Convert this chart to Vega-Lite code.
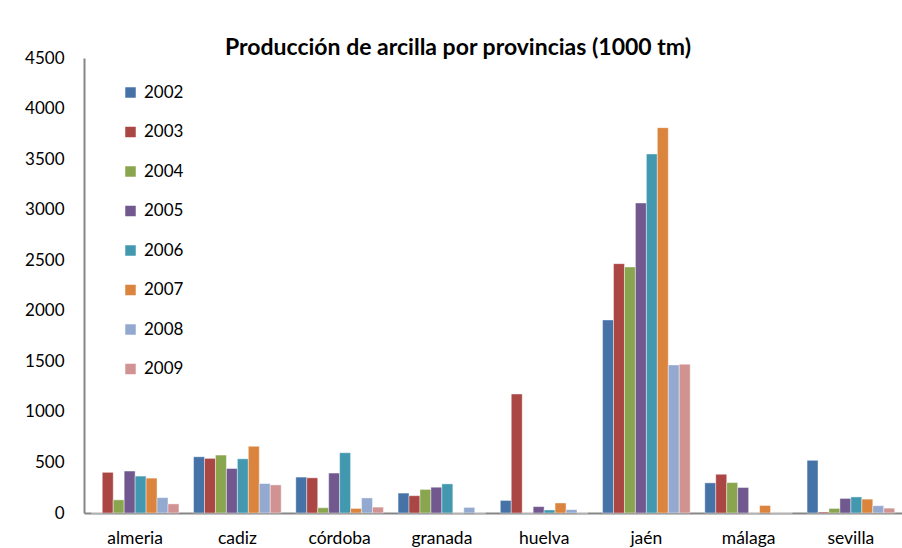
{
  "$schema": "https://vega.github.io/schema/vega-lite/v6.json",
  "autosize": "none",
  "padding": {"left": 84, "top": 58, "right": 0, "bottom": 35},
  "width": 818,
  "height": 455,
  "background": "white",
  "title": {
    "text": "Producción de arcilla por provincias (1000 tm)",
    "frame": "group",
    "anchor": "middle",
    "dx": -35,
    "dy": 33,
    "offset": 4,
    "baseline": "alphabetic",
    "fontSize": 23,
    "fontWeight": "bold",
    "color": "#000000"
  },
  "config": {
    "font": "Lato",
    "view": {"stroke": null},
    "axis": {"grid": false, "domainColor": "#868686", "domainWidth": 2, "labelColor": "#000000", "labelFontSize": 17, "ticks": false}
  },
  "data": {
    "values": [
      {"provincia": "almeria", "year": "2002", "value": 0},
      {"provincia": "almeria", "year": "2003", "value": 402},
      {"provincia": "almeria", "year": "2004", "value": 130},
      {"provincia": "almeria", "year": "2005", "value": 415},
      {"provincia": "almeria", "year": "2006", "value": 365},
      {"provincia": "almeria", "year": "2007", "value": 345},
      {"provincia": "almeria", "year": "2008", "value": 152},
      {"provincia": "almeria", "year": "2009", "value": 90},
      {"provincia": "cadiz", "year": "2002", "value": 556},
      {"provincia": "cadiz", "year": "2003", "value": 540},
      {"provincia": "cadiz", "year": "2004", "value": 573},
      {"provincia": "cadiz", "year": "2005", "value": 440},
      {"provincia": "cadiz", "year": "2006", "value": 536},
      {"provincia": "cadiz", "year": "2007", "value": 660},
      {"provincia": "cadiz", "year": "2008", "value": 291},
      {"provincia": "cadiz", "year": "2009", "value": 278},
      {"provincia": "córdoba", "year": "2002", "value": 355},
      {"provincia": "córdoba", "year": "2003", "value": 348},
      {"provincia": "córdoba", "year": "2004", "value": 52},
      {"provincia": "córdoba", "year": "2005", "value": 395},
      {"provincia": "córdoba", "year": "2006", "value": 596},
      {"provincia": "córdoba", "year": "2007", "value": 45},
      {"provincia": "córdoba", "year": "2008", "value": 149},
      {"provincia": "córdoba", "year": "2009", "value": 58},
      {"provincia": "granada", "year": "2002", "value": 197},
      {"provincia": "granada", "year": "2003", "value": 171},
      {"provincia": "granada", "year": "2004", "value": 233},
      {"provincia": "granada", "year": "2005", "value": 255},
      {"provincia": "granada", "year": "2006", "value": 288},
      {"provincia": "granada", "year": "2007", "value": 0},
      {"provincia": "granada", "year": "2008", "value": 55},
      {"provincia": "granada", "year": "2009", "value": 0},
      {"provincia": "huelva", "year": "2002", "value": 124},
      {"provincia": "huelva", "year": "2003", "value": 1177},
      {"provincia": "huelva", "year": "2004", "value": 0},
      {"provincia": "huelva", "year": "2005", "value": 63},
      {"provincia": "huelva", "year": "2006", "value": 30},
      {"provincia": "huelva", "year": "2007", "value": 99},
      {"provincia": "huelva", "year": "2008", "value": 33},
      {"provincia": "huelva", "year": "2009", "value": 0},
      {"provincia": "jaén", "year": "2002", "value": 1909},
      {"provincia": "jaén", "year": "2003", "value": 2466},
      {"provincia": "jaén", "year": "2004", "value": 2433},
      {"provincia": "jaén", "year": "2005", "value": 3066},
      {"provincia": "jaén", "year": "2006", "value": 3551},
      {"provincia": "jaén", "year": "2007", "value": 3811},
      {"provincia": "jaén", "year": "2008", "value": 1464},
      {"provincia": "jaén", "year": "2009", "value": 1471},
      {"provincia": "málaga", "year": "2002", "value": 298},
      {"provincia": "málaga", "year": "2003", "value": 383},
      {"provincia": "málaga", "year": "2004", "value": 301},
      {"provincia": "málaga", "year": "2005", "value": 252},
      {"provincia": "málaga", "year": "2006", "value": 0},
      {"provincia": "málaga", "year": "2007", "value": 74},
      {"provincia": "málaga", "year": "2008", "value": 0},
      {"provincia": "málaga", "year": "2009", "value": 0},
      {"provincia": "sevilla", "year": "2002", "value": 521},
      {"provincia": "sevilla", "year": "2003", "value": 10},
      {"provincia": "sevilla", "year": "2004", "value": 45},
      {"provincia": "sevilla", "year": "2005", "value": 144},
      {"provincia": "sevilla", "year": "2006", "value": 159},
      {"provincia": "sevilla", "year": "2007", "value": 137},
      {"provincia": "sevilla", "year": "2008", "value": 72},
      {"provincia": "sevilla", "year": "2009", "value": 48}
    ]
  },
  "mark": {"type": "bar", "stroke": "white", "strokeWidth": 0.6, "strokeOpacity": 0.7},
  "encoding": {
    "x": {
      "field": "provincia",
      "type": "nominal",
      "sort": ["almeria", "cadiz", "córdoba", "granada", "huelva", "jaén", "málaga", "sevilla"],
      "scale": {"paddingInner": 0.143, "paddingOuter": 0.0715},
      "axis": {"title": null, "labelAngle": 0, "labelPadding": 16, "labelFontSize": 17.5}
    },
    "xOffset": {"field": "year", "type": "nominal", "scale": {"paddingInner": 0, "paddingOuter": 0}},
    "y": {
      "field": "value",
      "type": "quantitative",
      "scale": {"domain": [0, 4500], "nice": false},
      "axis": {"title": null, "format": "d", "values": [0, 500, 1000, 1500, 2000, 2500, 3000, 3500, 4000, 4500], "labelPadding": 20}
    },
    "color": {
      "field": "year",
      "type": "nominal",
      "scale": {
        "domain": ["2002", "2003", "2004", "2005", "2006", "2007", "2008", "2009"],
        "range": ["#4572A7", "#AA4643", "#89A54E", "#71588F", "#4198AF", "#DB843D", "#93A9CF", "#D19392"]
      },
      "legend": {
        "title": null,
        "orient": "none",
        "legendX": 38,
        "legendY": 26,
        "padding": 0,
        "symbolType": "square",
        "symbolSize": 110,
        "symbolStrokeWidth": 0,
        "labelFontSize": 17,
        "labelColor": "#000000",
        "labelOffset": 5,
        "rowPadding": 21.5
      }
    }
  }
}
